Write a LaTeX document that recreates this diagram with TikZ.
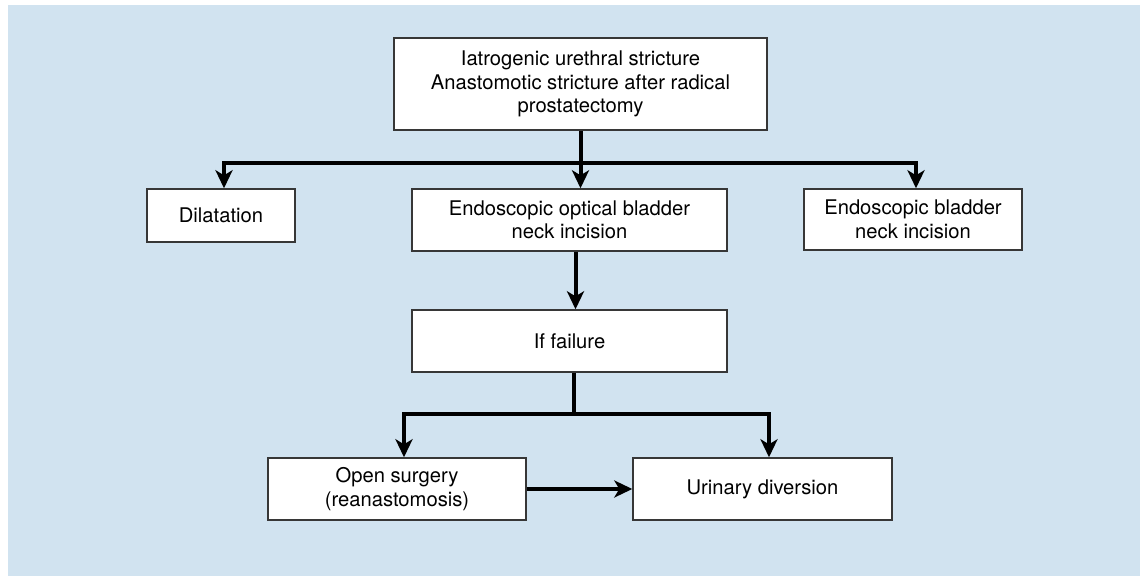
\documentclass[tikz,border=0pt]{standalone}
\usepackage{fontspec}
\setmainfont{TeX Gyre Heros}
\usepackage{tikz}
\usetikzlibrary{calc,arrows.meta,positioning}
\definecolor{panel}{RGB}{209,227,240}
\definecolor{edge}{RGB}{55,55,55}

\begin{document}
\begin{tikzpicture}[x=0.5pt, y=-0.5pt,
  box/.style = {draw=edge, line width=0.7pt, fill=white, align=center, inner sep=0pt,
                font=\fontsize{10.1}{11.75}\selectfont},
  link/.style = {line width=2pt, -{Stealth[length=9pt,width=8.5pt,inset=2.5pt]}},
  bar/.style = {line width=2pt}]
\useasboundingbox (0,0) rectangle (1140,576);
\fill[panel] (8,5) rectangle (1140,576);

\node[box, minimum width=186.5pt, minimum height=46pt] (top) at (580.5,84)
  {Iatrogenic urethral stricture\\Anastomotic stricture after radical\\prostatectomy};
\node[box, minimum width=74pt, minimum height=26.5pt] (dil) at (221,215.5) {Dilatation};
\node[box, minimum width=157.5pt, minimum height=31pt] (mid) at (569.5,220)
  {Endoscopic optical bladder\\neck incision};
\node[box, minimum width=109pt, minimum height=30.5pt] (right) at (913,219.5)
  {Endoscopic bladder\\neck incision};
\node[box, minimum width=157.5pt, minimum height=31pt] (fail) at (569.5,341) {If failure};
\node[box, minimum width=129pt, minimum height=31pt] (open) at (397,489)
  {Open surgery\\(reanastomosis)};
\node[box, minimum width=129.5pt, minimum height=31pt] (urin) at (762.5,489) {Urinary diversion};

% first split
\coordinate (split) at (580.5,163);
\draw[link] (top.south) -- (top.south |- mid.north);
\draw[link] (split) -| ([xshift=1.5pt]dil.north);
\draw[link] (split) -| ([xshift=1.5pt]right.north);
\draw[link] ([xshift=3pt]mid.south) -- ([xshift=3pt]fail.north);

% second split
\coordinate (join) at (574,414);
\draw[bar] (fail.south -| join) -- (join);
\draw[link] (join) -| ([xshift=3.5pt]open.north);
\draw[link] (join) -| ([xshift=3.25pt]urin.north);
\draw[link] (open) -- (urin);
\end{tikzpicture}
\end{document}
